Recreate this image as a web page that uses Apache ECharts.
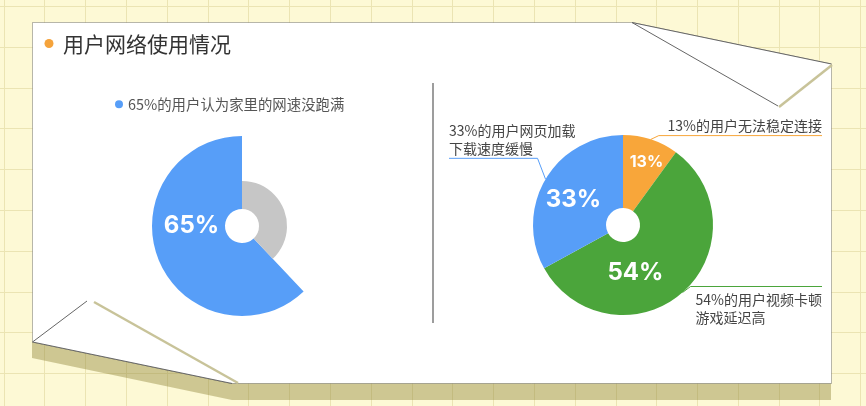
<!DOCTYPE html>
<html>
<head>
<meta charset="utf-8">
<script src="https://cdn.jsdelivr.net/npm/echarts@6/dist/echarts.min.js"></script>
<style>
html,body{margin:0;padding:0;background:#fdf9d5;}
#main{width:866px;height:406px;}
</style>
</head>
<body>
<div id="main"></div>
<script>
// ---- data ----
const titleText = '用户网络使用情况';
const leftNames = ['65%的用户认为家里的网速没跑满', '其余用户'];
const leftValues = [62, 38];
const leftLabels = ['65%', ''];
const rightNames = ['13%的用户无法稳定连接', '54%的用户视频卡顿\n游戏延迟高', '33%的用户网页加载\n下载速度缓慢'];
const rightValues = [10, 57, 33];
const rightLabels = ['13%', '54%', '33%'];

// ---- styles ----
const BLUE = '#579ef8', GRAY = '#c6c6c6', ORANGE = '#f8a63a', GREEN = '#4ba53b';
const rightColors = [ORANGE, GREEN, BLUE];
const CJK = '"Noto Sans CJK SC", "Noto Sans", sans-serif';
const NUMF = 'Inter, Roboto, sans-serif';

const chart = echarts.init(document.getElementById('main'), null, {renderer: 'canvas'});

// background grid
const gfx = [];
for (let x = 3.5; x < 866; x += 40.8) {
  gfx.push({type: 'line', z: 0, shape: {x1: Math.round(x) + 0.5, y1: 0, x2: Math.round(x) + 0.5, y2: 406}, style: {stroke: '#ebe4b3', lineWidth: 1}});
}
for (let y = 6; y < 406; y += 40.8) {
  gfx.push({type: 'line', z: 0, shape: {x1: 0, y1: Math.round(y) + 0.5, x2: 866, y2: Math.round(y) + 0.5}, style: {stroke: '#ebe4b3', lineWidth: 1}});
}
// shadow under paper
gfx.push({type: 'polygon', z: 1, shape: {points: [[32, 342], [232, 383], [831, 383], [831, 400], [232, 400], [32, 358]]}, style: {fill: 'rgba(140,132,55,0.42)'}});
// paper
gfx.push({type: 'polygon', z: 2, shape: {points: [[32.5, 22.5], [632, 22.5], [831.5, 64], [831.5, 383.5], [232, 383.5], [32.5, 342]]}, style: {fill: '#ffffff', stroke: 'rgba(0,0,0,0.28)', lineWidth: 1}});
// top-right flap
gfx.push({type: 'polygon', z: 3, shape: {points: [[632, 22.5], [831.5, 64], [778, 106]]}, style: {fill: '#ffffff'}});
gfx.push({type: 'polyline', z: 4, shape: {points: [[831.5, 64], [632, 22.5], [778, 106]]}, style: {stroke: '#666', lineWidth: 1, fill: null}});
gfx.push({type: 'line', z: 4, shape: {x1: 779, y1: 107, x2: 832, y2: 65}, style: {stroke: '#c8c399', lineWidth: 2.5}});
// bottom-left flap
gfx.push({type: 'polygon', z: 3, shape: {points: [[32.5, 342], [87, 301], [232, 383.5]]}, style: {fill: '#ffffff'}});
gfx.push({type: 'polyline', z: 4, shape: {points: [[232, 383.5], [32.5, 342], [87, 301]]}, style: {stroke: '#666', lineWidth: 1, fill: null}});
gfx.push({type: 'line', z: 4, shape: {x1: 94, y1: 302, x2: 238, y2: 383}, style: {stroke: '#c8c399', lineWidth: 2.5}});
// title
gfx.push({type: 'circle', z: 5, shape: {cx: 49, cy: 43.5, r: 4.5}, style: {fill: '#f5a33b'}});
gfx.push({type: 'text', z: 5, x: 63, y: 44, style: {text: titleText, fill: '#333', fontSize: 21, fontFamily: CJK, verticalAlign: 'middle'}});
// divider
gfx.push({type: 'line', z: 5, shape: {x1: 433, y1: 83, x2: 433, y2: 323}, style: {stroke: '#9d9d9d', lineWidth: 2}});

const none = {color: 'rgba(0,0,0,0)'};

// left pie data
const leftMain = leftValues.map((v, i) => i === 0
  ? {name: leftNames[i], value: v, itemStyle: {color: BLUE}}
  : {name: leftNames[i], value: v, itemStyle: none, label: {show: false}, labelLine: {show: false}});
const leftSub = leftValues.map((v, i) => i === 1
  ? {name: leftNames[i], value: v, itemStyle: {color: GRAY}}
  : {name: '_' + leftNames[i], value: v, itemStyle: none});

// right pie data
const innerFont = [16, 24, 24];
const innerShift = [[6, -9], [-25, 5], [-1, 4]];
const lineLen = [4, -8, 41];
const rightMain = rightValues.map((v, i) => ({
  name: rightNames[i], value: v, itemStyle: {color: rightColors[i]},
  label: {fontSize: innerFont[i]}
}));
const rightOuter = rightValues.map((v, i) => ({
  name: rightNames[i], value: v, itemStyle: none,
  labelLine: {length: lineLen[i], lineStyle: {color: rightColors[i]}}
}));

const option = {
  backgroundColor: '#fdf9d5',
  animation: false,
  graphic: {elements: gfx},
  legend: {
    data: [leftNames[0]],
    left: 110, top: 92,
    icon: 'circle', itemWidth: 8, itemHeight: 8,
    selectedMode: false,
    textStyle: {fontSize: 14.4, color: '#555', fontFamily: CJK}
  },
  series: [
    {
      type: 'pie', z: 3, silent: true,
      center: [242, 226], radius: [17, 90],
      startAngle: 90, clockwise: false,
      data: leftMain,
      label: {
        position: 'inside', color: '#fff', fontFamily: NUMF, fontWeight: 'bold', fontSize: 24,
        formatter: p => leftLabels[p.dataIndex]
      },
      labelLayout: {dx: 2, dy: -21},
      labelLine: {show: false}
    },
    {
      type: 'pie', z: 3, silent: true,
      center: [242, 226], radius: [17, 45],
      startAngle: 90, clockwise: false,
      data: leftSub,
      label: {show: false}, labelLine: {show: false}
    },
    {
      type: 'pie', z: 3, silent: true,
      left: 449, right: 44, top: 0, bottom: 0,
      center: [174, 225], radius: [17, 90],
      startAngle: 90, clockwise: true,
      data: rightMain,
      label: {
        position: 'inside', color: '#fff', fontFamily: NUMF, fontWeight: 'bold',
        formatter: p => rightLabels[p.dataIndex]
      },
      labelLayout: p => ({dx: innerShift[p.dataIndex][0], dy: innerShift[p.dataIndex][1]}),
      labelLine: {show: false}
    },
    {
      type: 'pie', z: 4, silent: true,
      left: 449, right: 44, top: 0, bottom: 0,
      center: [174, 225], radius: [17, 90],
      startAngle: 90, clockwise: true,
      data: rightOuter,
      label: {
        position: 'outside', alignTo: 'edge', edgeDistance: 0, overflow: 'none',
        color: '#444', fontSize: 14, lineHeight: 18, fontFamily: CJK,
        formatter: '{b}'
      },
      labelLine: {show: true, length2: 10, lineStyle: {width: 1}},
      labelLayout: function (p) {
        const pts = p.labelLinePoints;
        if (!pts) return {};
        const r = p.labelRect;
        const isLeft = (r.x + r.width / 2) < pts[0][0];
        const above = pts[0][1] < 225;
        const y = pts[1][1];
        const bendX = pts[0][0] + (isLeft ? -8 : 8);
        const farX = isLeft ? r.x : r.x + r.width;
        return {
          x: r.x, align: 'left',
          labelLinePoints: [pts[0], [bendX, y], [farX, y]],
          dy: above ? -(r.height / 2 + 1) : (r.height / 2 + 4)
        };
      }
    }
  ]
};
chart.setOption(option);
</script>
</body>
</html>
